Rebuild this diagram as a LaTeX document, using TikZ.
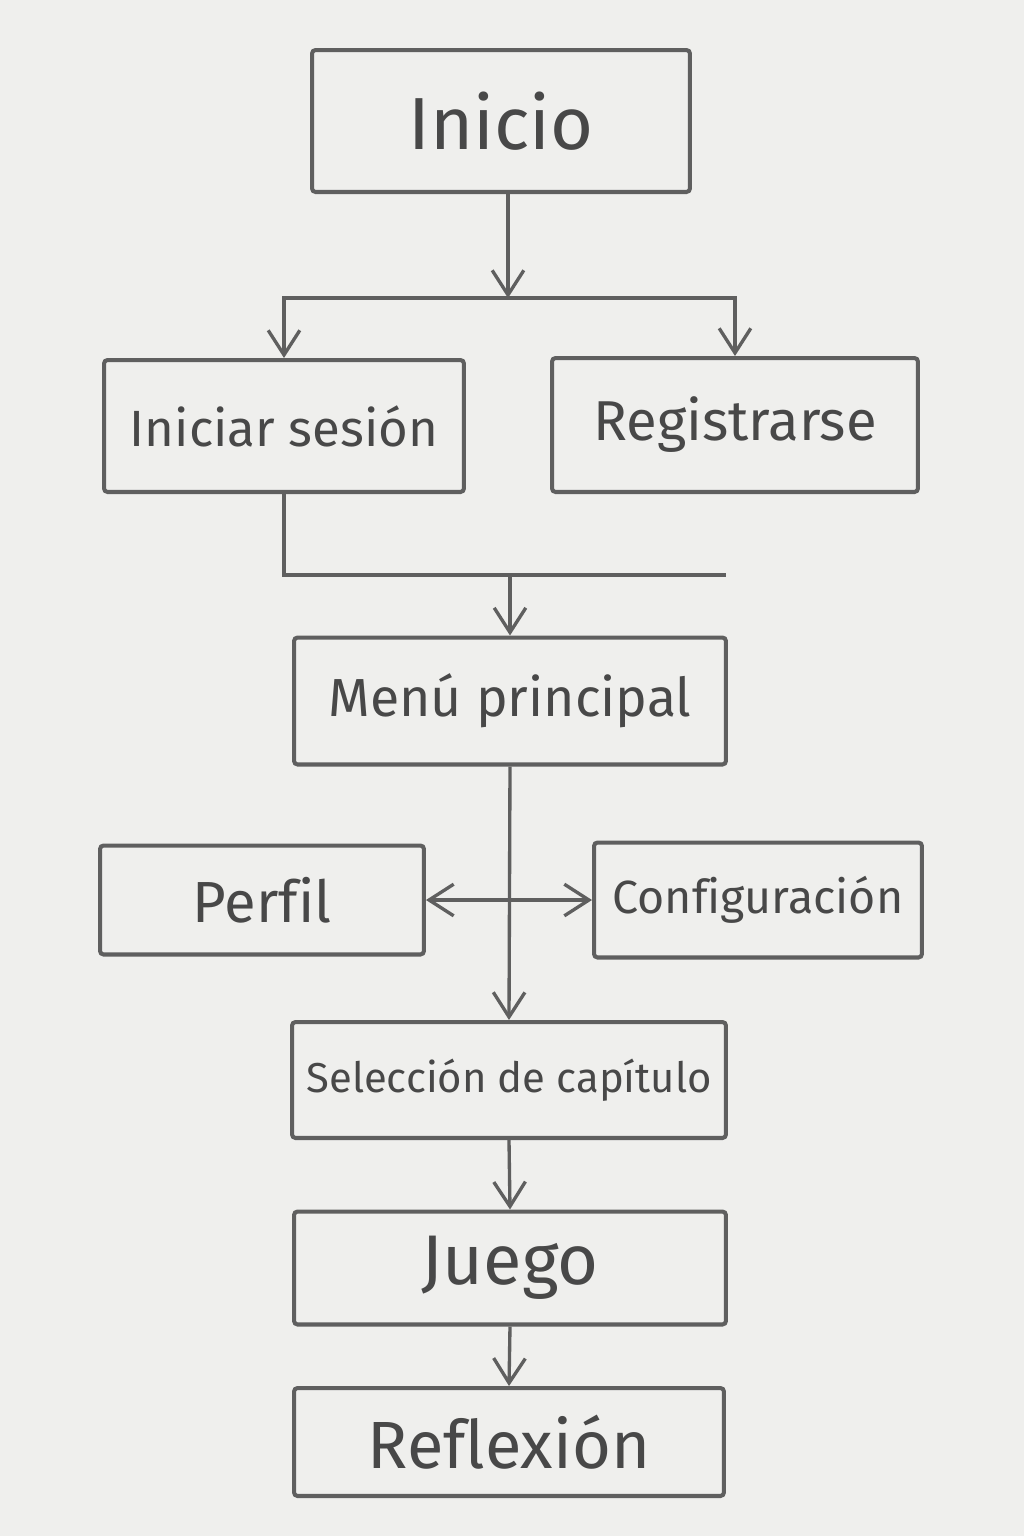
\documentclass[tikz,border=0pt]{standalone}
\usepackage{fontspec}
\setmainfont{Fira Sans}[Ligatures={NoCommon}]
\usepackage{xcolor}
\usetikzlibrary{arrows.meta,
positioning,
calc}

\definecolor{paper}{RGB}{239,239,237}
\definecolor{pencil}{RGB}{95,95,95}
\definecolor{graphite}{RGB}{72,72,72}

\begin{document}
\begin{tikzpicture}[
				x=0.02cm, y=-0.02cm,
				stepbox/.style={
					draw=pencil,
					rounded corners=2pt,
					align=center,
					text=graphite,
					inner sep=0pt,
					line width=2.3pt
				},
				link/.style={
					draw=pencil,
					line width=1.9pt
				},
				arr/.style={
					link,
					-{Straight Barb[length=14pt,width=18pt,line width=1.9pt]}
				},
				arrboth/.style={
					link,
					{Straight Barb[length=14pt,width=18pt,line width=1.9pt]}-{Straight Barb[length=14pt,width=18pt,line width=1.9pt]}
				}
				]
				\fill[paper] (0,0) rectangle (1024,1536);
				\useasboundingbox (0,0) rectangle (1024,1536);

				\node[stepbox, minimum width=7.56cm, minimum height=2.84cm, font=\fontsize{42}{48}\selectfont] (inicio) at (501,121) {Inicio};
				\node[stepbox, minimum width=7.2cm, minimum height=2.64cm, font=\fontsize{29}{34}\selectfont] (sesion) at (284,426) {Iniciar sesión};
				\node[stepbox, minimum width=7.32cm, minimum height=2.68cm, font=\fontsize{32}{36}\selectfont] (registro) at (735,425) {Registrarse};
				\node[stepbox, minimum width=8.64cm, minimum height=2.54cm, font=\fontsize{30.5}{36}\selectfont] (menu) at (510,701) {Menú principal};
				\node[stepbox, minimum width=6.48cm, minimum height=2.18cm, font=\fontsize{33}{38}\selectfont] (perfil) at (262,900) {Perfil};
				\node[stepbox, minimum width=6.56cm, minimum height=2.3cm, font=\fontsize{26.5}{32}\selectfont] (config) at (758,900) {Configuración};
				\node[stepbox, minimum width=8.68cm, minimum height=2.32cm, font=\fontsize{23.8}{30}\selectfont] (capitulo) at (509,1080) {Selección de capítulo};
				\node[stepbox, minimum width=8.64cm, minimum height=2.26cm, font=\fontsize{40}{46}\selectfont] (juego) at (510,1268) {Juego};
				\node[stepbox, minimum width=8.6cm, minimum height=2.16cm, font=\fontsize{38}{44}\selectfont] (reflexion) at (509,1442) {Reflexión};

				% bifurcacion desde inicio
				\coordinate (forkA) at (508,298);
				\draw[arr] (inicio.south -| forkA) -- (forkA);
				\draw[arr] (forkA) -| (sesion.north);
				\draw[arr] (forkA) -| (registro.north);

				% union hacia el menu
				\coordinate (joinB) at (510,575);
				\coordinate (joinEnd) at (726,575);
				\draw[link] (sesion.south) |- (joinEnd);
				\draw[arr] (joinB) -- (menu.north);

				\draw[arr] (menu.south) -- (capitulo.north);
				\draw[arrboth] (perfil.east) -- (config.west);
				\draw[arr] (capitulo.south) -- (juego.north);
				\draw[arr] (juego.south) -- (reflexion.north);
			\end{tikzpicture}
\end{document}
